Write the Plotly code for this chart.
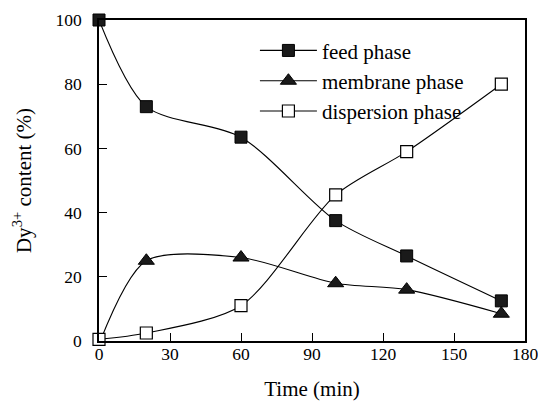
import plotly.graph_objects as go

time = [0, 20, 60, 100, 130, 170]
feed = [100, 73, 63.5, 37.5, 26.5, 12.5]
membrane = [-1, 25, 26, 18, 16, 8.5]
dispersion = [0.5, 2.5, 11, 45.5, 59, 80]

FONT = "Liberation Serif"
fig = go.Figure()
common = dict(mode="lines+markers", line=dict(color="black", width=1.1, shape="spline", smoothing=0.8),
              cliponaxis=False)
fig.add_trace(go.Scatter(x=time, y=feed, name="feed phase",
                         marker=dict(symbol="square", size=12, color="#1a1a1a", line=dict(color="black", width=1)), **common))
fig.add_trace(go.Scatter(x=time, y=membrane, name="membrane phase",
                         marker=dict(symbol="triangle-up", size=14, color="#1a1a1a", line=dict(color="black", width=1)), **common))
fig.add_trace(go.Scatter(x=time, y=dispersion, name="dispersion phase",
                         marker=dict(symbol="square", size=12, color="white", line=dict(color="black", width=1.2)), **common))

axis = dict(showgrid=False, zeroline=False, showline=True, linecolor="black", linewidth=1.5,
            mirror=True, ticks="inside", ticklen=8, tickwidth=1.2, tickcolor="black", automargin=False,
            tickfont=dict(family=FONT, size=17.5, color="black"), ticklabeloverflow="allow")
fig.update_xaxes(range=[0, 180], tickvals=[0, 30, 60, 90, 120, 150, 180], ticklabelstandoff=-4,
                 title=dict(text="Time (min)", font=dict(family=FONT, size=21, color="black"), standoff=35), **axis)
fig.update_yaxes(range=[0, 100], tickvals=[0, 20, 40, 60, 80, 100], ticklabelstandoff=12,
                 title=dict(text="Dy<sup>3+</sup> content (%)", font=dict(family=FONT, size=21, color="black"), standoff=18), **axis)
fig.update_layout(width=538, height=401, margin=dict(l=99, r=13, t=20, b=60),
                  font=dict(family=FONT, color="black"),
                  plot_bgcolor="white", paper_bgcolor="white",
                  legend=dict(x=0.366, y=0.968, xanchor="left", yanchor="top", bgcolor="rgba(0,0,0,0)",
                              font=dict(family=FONT, size=21, color="black"), itemwidth=57,
                              tracegroupgap=0),
                  showlegend=True)
fig.write_html("out.html")
